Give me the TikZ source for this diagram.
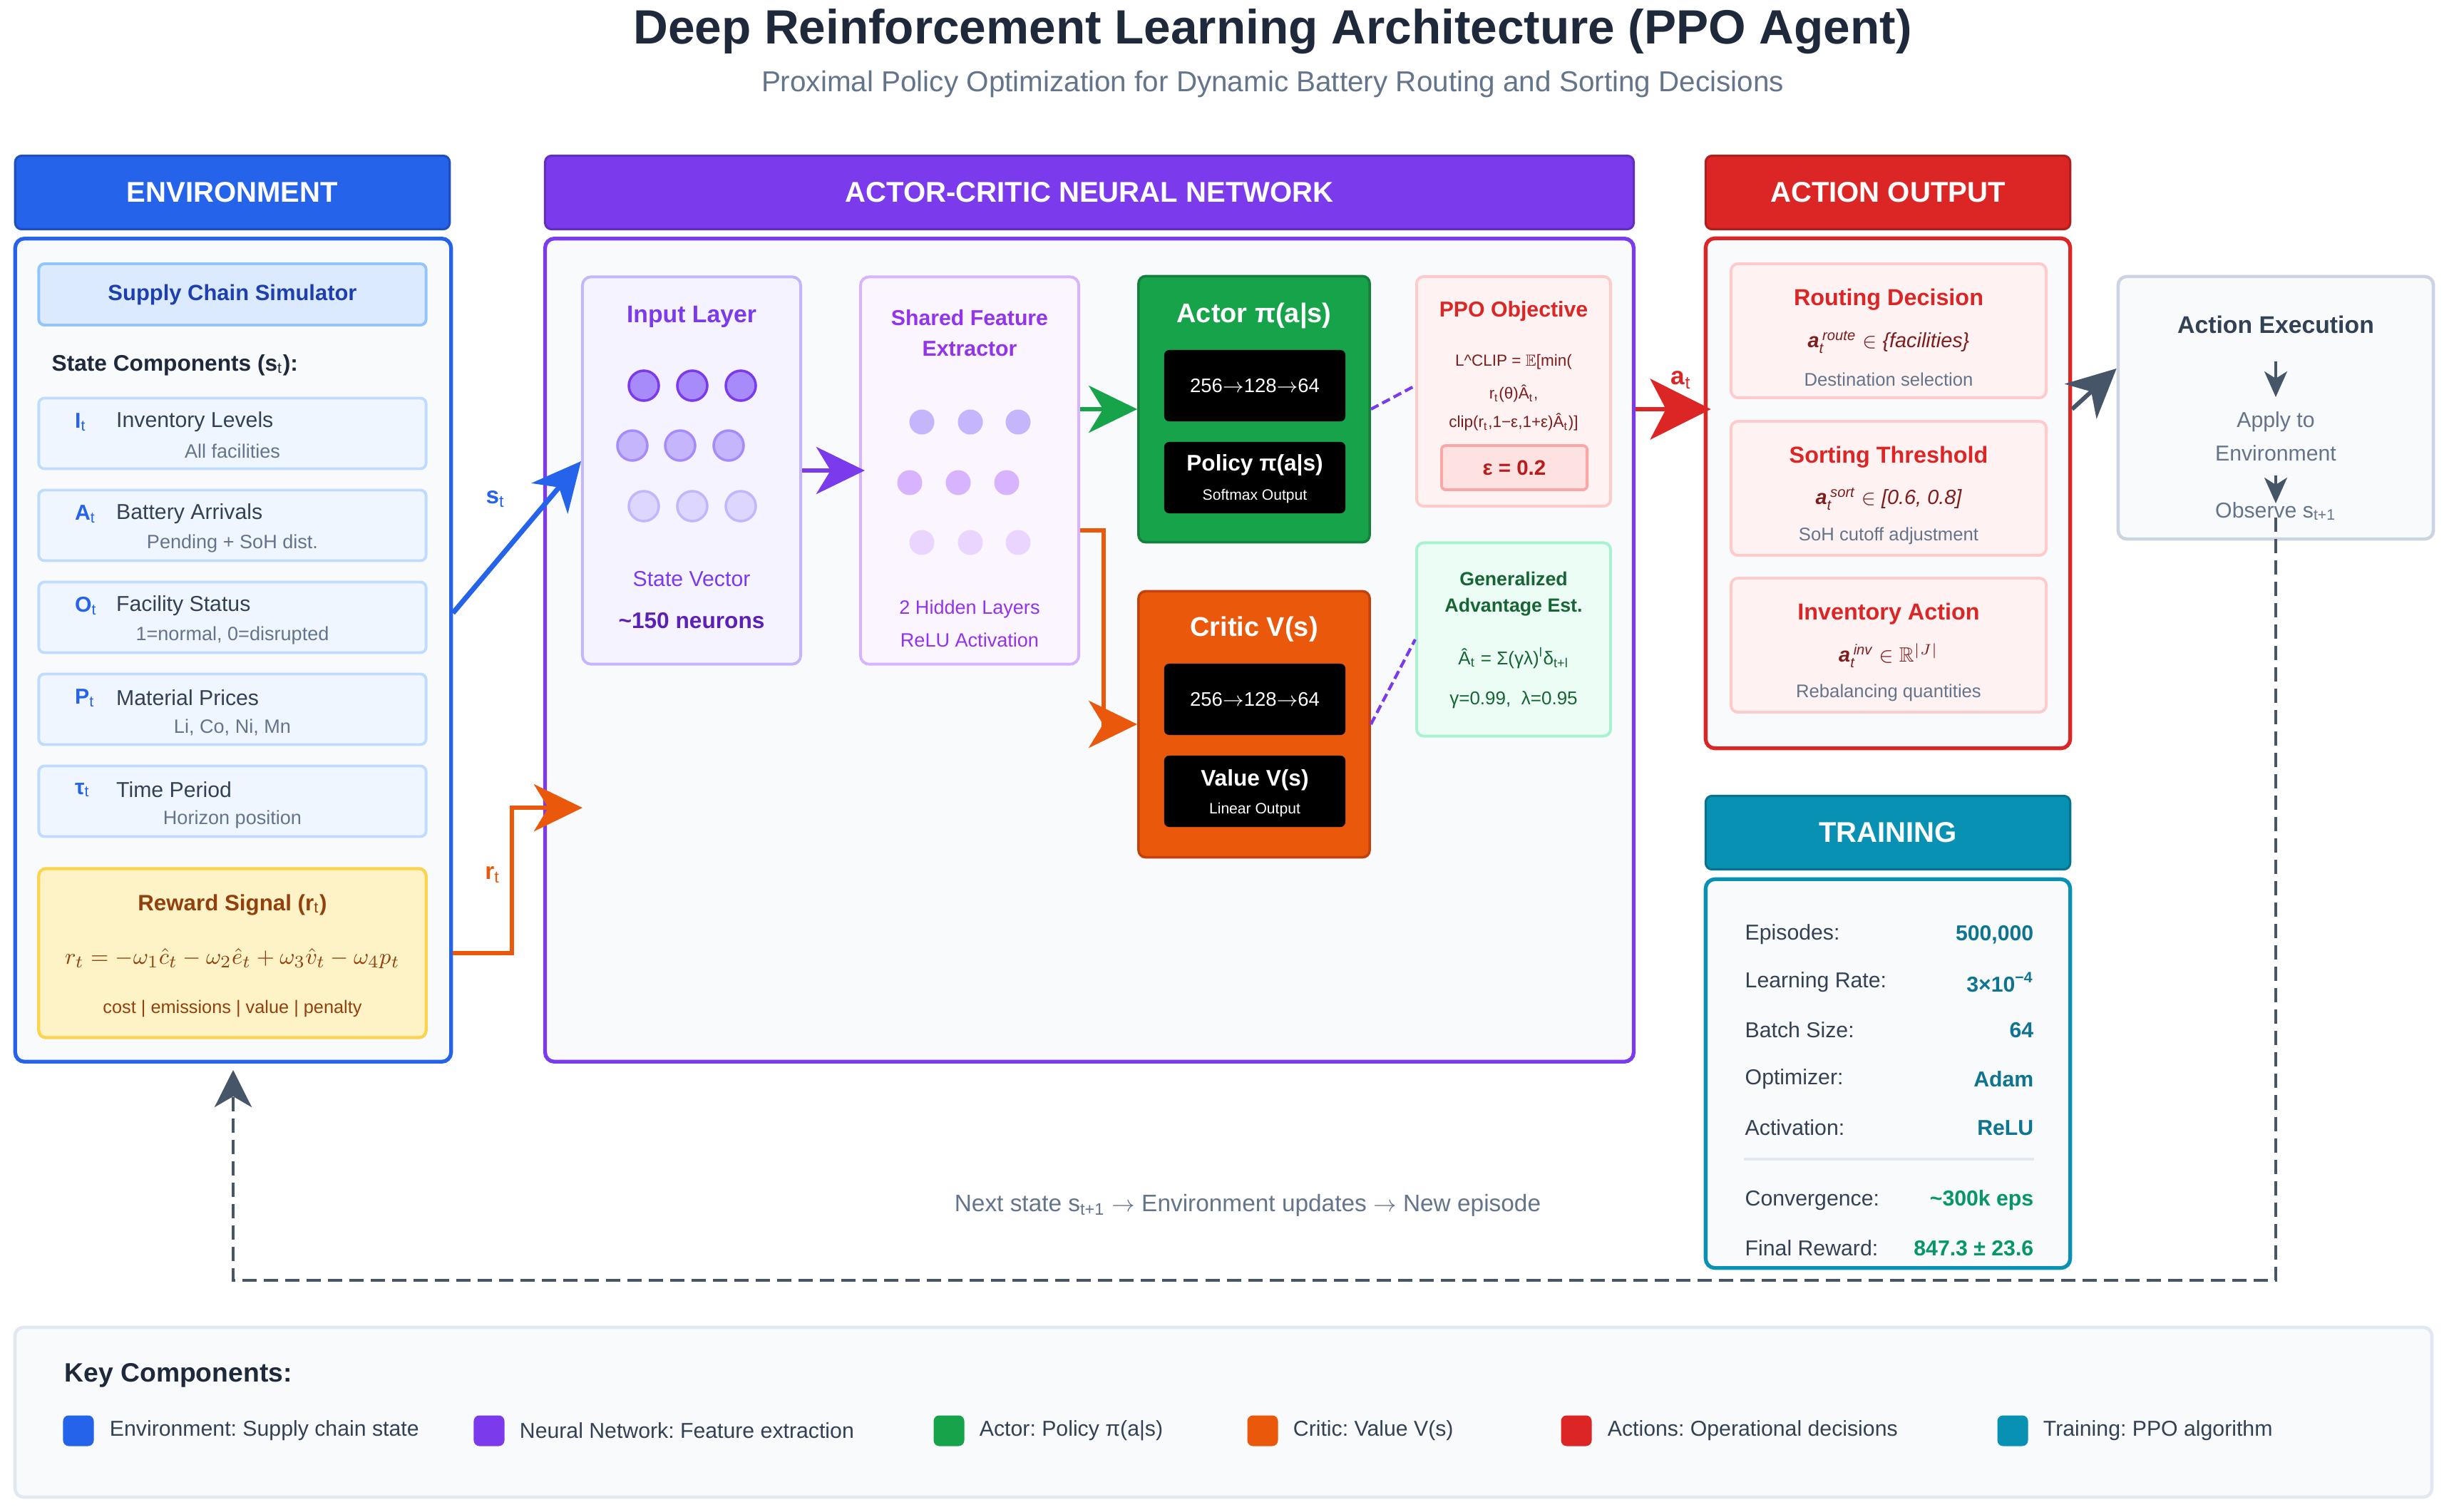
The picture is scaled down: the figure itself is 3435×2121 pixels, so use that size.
\documentclass[tikz,border=0pt]{standalone}
\usepackage{amsmath, amssymb}
\usepackage{fontspec}
\setmainfont{Liberation Sans}
\usepackage{tikz}
\usetikzlibrary{positioning}
\usetikzlibrary{arrows.meta}
\tikzset{>={Stealth[length=6.8mm,width=6.6mm,inset=2mm]}}
\frenchspacing

\newcommand{\fsz}[1]{\fontsize{#1}{#1}\selectfont}

\definecolor{ink}{HTML}{1E293B}
\definecolor{slate}{HTML}{64748B}
\definecolor{slatedk}{HTML}{475569}
\definecolor{slatetx}{HTML}{334155}
\definecolor{panelbg}{HTML}{F8FAFC}
\definecolor{envblue}{HTML}{2563EB}
\definecolor{simfill}{HTML}{DBEAFE}
\definecolor{simline}{HTML}{93C5FD}
\definecolor{simtext}{HTML}{1E40AF}
\definecolor{itemfill}{HTML}{EFF6FF}
\definecolor{itemline}{HTML}{BFDBFE}
\definecolor{rewfill}{HTML}{FEF3C7}
\definecolor{rewline}{HTML}{FCD34D}
\definecolor{rewtext}{HTML}{92400E}
\definecolor{nnpurple}{HTML}{7C3AED}
\definecolor{inpfill}{HTML}{F5F3FF}
\definecolor{inpline}{HTML}{C4B5FD}
\definecolor{inpdeep}{HTML}{5B21B6}
\definecolor{shfill}{HTML}{FAF5FF}
\definecolor{shline}{HTML}{D8B4FE}
\definecolor{shtext}{HTML}{9333EA}
\definecolor{neurA}{HTML}{A78BFA}
\definecolor{neurB}{HTML}{C4B5FD}
\definecolor{neurC}{HTML}{DDD6FE}
\definecolor{hidA}{HTML}{C4B5FD}
\definecolor{hidB}{HTML}{D8B4FE}
\definecolor{hidC}{HTML}{E9D5FF}
\definecolor{actgreen}{HTML}{16A34A}
\definecolor{actgreend}{HTML}{15803D}
\definecolor{critorange}{HTML}{EA580C}
\definecolor{critoranged}{HTML}{C2410C}
\definecolor{ppofill}{HTML}{FEF2F2}
\definecolor{ppoline}{HTML}{FECACA}
\definecolor{ppodark}{HTML}{7F1D1D}
\definecolor{epsfill}{HTML}{FEE2E2}
\definecolor{epsline}{HTML}{FCA5A5}
\definecolor{epstext}{HTML}{B91C1C}
\definecolor{gaefill}{HTML}{ECFDF5}
\definecolor{gaeline}{HTML}{A7F3D0}
\definecolor{gaetext}{HTML}{166534}
\definecolor{actred}{HTML}{DC2626}
\definecolor{exline}{HTML}{CBD5E1}
\definecolor{trcyan}{HTML}{0891B2}
\definecolor{trvalue}{HTML}{0E7490}
\definecolor{trgreen}{HTML}{059669}
\definecolor{legline}{HTML}{E2E8F0}

\begin{document}
\begin{tikzpicture}[x=0.01cm, y=-0.01cm, every node/.style={inner sep=0pt},
    hdr/.style={rounded corners=0.09cm, fill=#1, draw=#1!80!black, line width=0.9pt, text=white, font=\fsz{11.4}\bfseries, minimum height=1.03cm},
    panel/.style={rounded corners=0.13cm, fill=panelbg, draw=#1, line width=1.5pt},
    stateitem/.style={rounded corners=0.08cm, fill=itemfill, draw=itemline, line width=1.1pt, minimum width=5.43cm, minimum height=0.99cm},
    statesym/.style={anchor=west, font=\fsz{8.6}\bfseries, text=envblue},
    statename/.style={anchor=west, font=\fsz{8.6}, text=slatetx},
    statesub/.style={font=\fsz{7.7}, text=slate},
    layerbox/.style={rounded corners=0.12cm, line width=1.1pt, minimum width=3.06cm, minimum height=5.43cm},
    neuron/.style={circle, minimum size=0.42cm, line width=1pt},
    hidden/.style={circle, minimum size=0.35cm, fill=#1},
    headbox/.style={rounded corners=0.1cm, line width=1pt, minimum width=3.24cm, minimum height=3.73cm},
    blackbox/.style={rounded corners=0.07cm, fill=black, minimum width=2.54cm, minimum height=1.0cm, font=\fsz{7.8}, text=white},
    ppotext/.style={font=\fsz{6.4}, text=ppodark},
    gaetitle/.style={font=\fsz{7.6}\bfseries, text=gaetext},
    gaeline/.style={font=\fsz{7.4}, text=gaetext},
    ppolink/.style={draw=nnpurple, line width=1.2pt, dash pattern=on 0.12cm off 0.06cm},
    actitem/.style={rounded corners=0.1cm, fill=ppofill, draw=ppoline, line width=1.1pt, minimum width=4.42cm, minimum height=1.88cm},
    acttitle/.style={font=\fsz{9.2}\bfseries, text=actred},
    actform/.style={font=\fsz{8.2}, text=ppodark},
    actcap/.style={font=\fsz{7.3}, text=slate},
    trlabel/.style={anchor=west, font=\fsz{8.6}, text=slatetx},
    trval/.style={anchor=east, font=\fsz{8.6}\bfseries, text=#1},
    legsq/.style={rounded corners=0.08cm, fill=#1, minimum size=0.43cm},
    legtext/.style={font=\fsz{8.6}, text=slatetx},
    loopback/.style={draw=slatedk, line width=1.4pt, dash pattern=on 0.2cm off 0.1cm, -{Stealth[length=5.2mm,width=5.2mm,inset=1.5mm]}}]

    \path[use as bounding box, fill=white] (0,0) rectangle (3435,2121);

    %Title
    \node[font=\fsz{19.2}\bfseries, text=ink] (title) at (1785,44) {Deep Reinforcement Learning Architecture (PPO Agent)};
    \node[font=\fsz{11.5}, text=slate] (subtitle) at (1785,118) {Proximal Policy Optimization for Dynamic Battery Routing and Sorting Decisions};

    %Environment
    \node[hdr=envblue, minimum width=6.09cm] (envhead) at (326,270) {ENVIRONMENT};
    \node[panel=envblue, minimum width=6.11cm, minimum height=11.54cm] (envbody) at (327,912) {};
    \node[rounded corners=0.08cm, fill=simfill, draw=simline, line width=1.1pt, minimum width=5.43cm, minimum height=0.86cm, font=\fsz{8.8}\bfseries, text=simtext] (sim) at (326,413) {Supply Chain Simulator};
    \node[anchor=west, font=\fsz{9}\bfseries, text=ink] (statehd) at (72,512) {State Components (s$_{\mathrm{t}}$):};

    \node[stateitem] (inv) at (326,608) {};
    \node[statesym] (invsym) at ([xshift=0.52cm,yshift=0.16cm]inv.west) {I$_{\mathrm{t}}$};
    \node[statename] (invname) at ([xshift=1.10cm,yshift=0.16cm]inv.west) {Inventory Levels};
    \node[statesub] (invsub) at ([yshift=-0.25cm]inv.center) {All facilities};

    \node[stateitem] (arr) at (326,737) {};
    \node[statesym] (arrsym) at ([xshift=0.52cm,yshift=0.16cm]arr.west) {A$_{\mathrm{t}}$};
    \node[statename] (arrname) at ([xshift=1.10cm,yshift=0.16cm]arr.west) {Battery Arrivals};
    \node[statesub] (arrsub) at ([yshift=-0.25cm]arr.center) {Pending + SoH dist.};

    \node[stateitem] (fac) at (326,866) {};
    \node[statesym] (facsym) at ([xshift=0.52cm,yshift=0.16cm]fac.west) {O$_{\mathrm{t}}$};
    \node[statename] (facname) at ([xshift=1.10cm,yshift=0.16cm]fac.west) {Facility Status};
    \node[statesub] (facsub) at ([yshift=-0.25cm]fac.center) {1=normal, 0=disrupted};

    \node[stateitem] (mat) at (326,995) {};
    \node[statesym] (matsym) at ([xshift=0.52cm,yshift=0.16cm]mat.west) {P$_{\mathrm{t}}$};
    \node[statename] (matname) at ([xshift=1.10cm,yshift=0.16cm]mat.west) {Material Prices};
    \node[statesub] (matsub) at ([yshift=-0.25cm]mat.center) {Li, Co, Ni, Mn};

    \node[stateitem] (tim) at (326,1124) {};
    \node[statesym] (timsym) at ([xshift=0.52cm,yshift=0.16cm]tim.west) {τ$_{\mathrm{t}}$};
    \node[statename] (timname) at ([xshift=1.10cm,yshift=0.16cm]tim.west) {Time Period};
    \node[statesub] (timsub) at ([yshift=-0.25cm]tim.center) {Horizon position};

    \node[rounded corners=0.1cm, fill=rewfill, draw=rewline, line width=1.2pt, minimum width=5.43cm, minimum height=2.37cm] (reward) at (326,1337) {};
    \node[font=\fsz{8.9}\bfseries, text=rewtext] (rewtitle) at (326,1269) {Reward Signal (r$_{\mathrm{t}}$)};
    \node[font=\fsz{9.3}, text=rewtext] (rewform) at (326,1345) {$r_t = -\omega_1\hat{c}_t - \omega_2\hat{e}_t + \omega_3\hat{v}_t - \omega_4 p_t$};
    \node[font=\fsz{7.2}, text=rewtext] (rewcap) at (326,1415) {cost | emissions | value | penalty};

    %Actor-critic network
    \node[hdr=nnpurple, minimum width=15.26cm] (acnhead) at (1528,270) {ACTOR-CRITIC NEURAL NETWORK};
    \node[panel=nnpurple, minimum width=15.26cm, minimum height=11.54cm] (acnbody) at (1528,912) {};

    \node[layerbox, fill=inpfill, draw=inpline] (inlayer) at (970,660) {};
    \node[font=\fsz{9.6}\bfseries, text=nnpurple] (inlabel) at (970,444) {Input Layer};
    \node[neuron, fill=neurA, draw=nnpurple] (in11) at (903,541) {};
    \node[neuron, fill=neurA, draw=nnpurple] (in12) at (971,541) {};
    \node[neuron, fill=neurA, draw=nnpurple] (in13) at (1039,541) {};
    \node[neuron, fill=neurB, draw=neurA] (in21) at (887,625) {};
    \node[neuron, fill=neurB, draw=neurA] (in22) at (954,625) {};
    \node[neuron, fill=neurB, draw=neurA] (in23) at (1022,625) {};
    \node[neuron, fill=neurC, draw=neurB] (in31) at (903,710) {};
    \node[neuron, fill=neurC, draw=neurB] (in32) at (971,710) {};
    \node[neuron, fill=neurC, draw=neurB] (in33) at (1039,710) {};
    \node[font=\fsz{8.6}, text=nnpurple] (invec) at (970,812) {State Vector};
    \node[font=\fsz{9}\bfseries, text=inpdeep] (insize) at (970,871) {\textasciitilde150 neurons};

    \node[layerbox, fill=shfill, draw=shline] (shared) at (1360,660) {};
    \node[font=\fsz{8.6}\bfseries, text=shtext] (shlabela) at (1360,446) {Shared Feature};
    \node[font=\fsz{8.6}\bfseries, text=shtext] (shlabelb) at (1360,489) {Extractor};
    \node[hidden=hidA] (hd11) at (1293,592) {};
    \node[hidden=hidA] (hd12) at (1361,592) {};
    \node[hidden=hidA] (hd13) at (1428,592) {};
    \node[hidden=hidB] (hd21) at (1276,677) {};
    \node[hidden=hidB] (hd22) at (1344,677) {};
    \node[hidden=hidB] (hd23) at (1412,677) {};
    \node[hidden=hidC] (hd31) at (1293,761) {};
    \node[hidden=hidC] (hd32) at (1361,761) {};
    \node[hidden=hidC] (hd33) at (1428,761) {};
    \node[font=\fsz{7.7}, text=shtext] (shinfoa) at (1360,854) {2 Hidden Layers};
    \node[font=\fsz{7.7}, text=shtext] (shinfob) at (1360,898) {ReLU Activation};

    \node[headbox, fill=actgreen, draw=actgreend] (actor) at (1759,574) {};
    \node[font=\fsz{10.8}\bfseries, text=white] (actortitle) at (1759,443) {Actor π(a|s)};
    \node[blackbox] (actnet) at (1760,541) {256$\rightarrow$128$\rightarrow$64};
    \node[blackbox] (actpol) at (1760,670) {};
    \node[font=\fsz{9}\bfseries, text=white] (actpola) at (1760,653) {Policy π(a|s)};
    \node[font=\fsz{6}, text=white] (actpolb) at (1760,696) {Softmax Output};

    \node[headbox, fill=critorange, draw=critoranged] (critic) at (1759,1016) {};
    \node[font=\fsz{10.8}\bfseries, text=white] (critictitle) at (1759,883) {Critic V(s)};
    \node[blackbox] (critnet) at (1760,981) {256$\rightarrow$128$\rightarrow$64};
    \node[blackbox] (critval) at (1760,1110) {};
    \node[font=\fsz{9}\bfseries, text=white] (critvala) at (1760,1094) {Value V(s)};
    \node[font=\fsz{6}, text=white] (critvalb) at (1760,1136) {Linear Output};

    \node[rounded corners=0.1cm, fill=ppofill, draw=ppoline, line width=1.1pt, minimum width=2.72cm, minimum height=3.22cm] (ppo) at (2123,549) {};
    \node[font=\fsz{8.6}\bfseries, text=actred] (ppotitle) at (2123,437) {PPO Objective};
    \node[ppotext] (ppoa) at (2123,508) {L\textasciicircum CLIP = $\mathbb{E}$[min(};
    \node[ppotext] (ppob) at (2123,552) {r\textsubscript{t}(θ)Â\textsubscript{t},};
    \node[ppotext] (ppoc) at (2123,592) {clip(r\textsubscript{t},1−ε,1+ε)Â\textsubscript{t})]};
    \node[rounded corners=0.06cm, fill=epsfill, draw=epsline, line width=1.1pt, minimum width=2.04cm, minimum height=0.62cm, font=\fsz{8.4}\bfseries, text=epstext] (eps) at (2124,656) {ε = 0.2};

    \node[rounded corners=0.1cm, fill=gaefill, draw=gaeline, line width=1.1pt, minimum width=2.72cm, minimum height=2.71cm] (gae) at (2123,897) {};
    \node[gaetitle] (gaea) at (2123,812) {Generalized};
    \node[gaetitle] (gaeb) at (2123,852) {Advantage Est.};
    \node[gaeline] (gaec) at (2123,923) {Â\textsubscript{t} = Σ(γλ)\textsuperscript{l}δ\textsubscript{t+l}};
    \node[gaeline] (gaed) at (2123,982) {γ=0.99, \ λ=0.95};

    %Action output
    \node[hdr=actred, minimum width=5.11cm] (acthead) at (2648,270) {ACTION OUTPUT};
    \node[panel=actred, minimum width=5.11cm, minimum height=7.15cm] (actbody) at (2648,692) {};

    \node[actitem] (route) at (2649,464) {};
    \node[acttitle] (routet) at (2649,420) {Routing Decision};
    \node[actform] (routef) at (2649,480) {$\textbf{\textit{a}}_{\textit{t}}^{\,\textit{route}} \in \textit{\{facilities\}}$};
    \node[actcap] (routec) at (2649,532) {Destination selection};

    \node[actitem] (sortth) at (2649,685) {};
    \node[acttitle] (sortt) at (2649,641) {Sorting Threshold};
    \node[actform] (sortf) at (2649,700) {$\textbf{\textit{a}}_{\textit{t}}^{\,\textit{sort}} \in \textit{[0.6, 0.8]}$};
    \node[actcap] (sortc) at (2649,752) {SoH cutoff adjustment};

    \node[actitem] (invact) at (2649,905) {};
    \node[acttitle] (invactt) at (2649,861) {Inventory Action};
    \node[actform] (invactf) at (2649,920) {$\textbf{\textit{a}}_{\textit{t}}^{\,\textit{inv}} \in \mathbb{R}^{|J|}$};
    \node[actcap] (invactc) at (2649,972) {Rebalancing quantities};

    %Action execution
    \node[rounded corners=0.12cm, fill=panelbg, draw=exline, line width=1.3pt, minimum width=4.42cm, minimum height=3.68cm] (exec) at (3192,572) {};
    \node[font=\fsz{9.6}\bfseries, text=slatetx] (extitle) at (3192,455) {Action Execution};
    \node[font=\fsz{8.6}, text=slate] (exapply) at (3192,592) {Apply to};
    \node[font=\fsz{8.6}, text=slate] (exenv) at (3192,636) {Environment};
    \node[font=\fsz{8.6}, text=slate] (exobs) at (3192,717) {Observe s\textsubscript{t+1}};

    %Training
    \node[hdr=trcyan, minimum width=5.11cm] (trhead) at (2648,1168) {TRAINING};
    \node[panel=trcyan, minimum width=5.11cm, minimum height=5.45cm] (trbody) at (2648,1506) {};
    \node[trlabel] (epl) at (2447,1311) {Episodes:};
    \node[trval=trvalue] (epv) at (2853,1311) {500,000};
    \node[trlabel] (lrl) at (2447,1378) {Learning Rate:};
    \node[trval=trvalue] (lrv) at (2853,1378) {3×10\textsuperscript{−4}};
    \node[trlabel] (bsl) at (2447,1445) {Batch Size:};
    \node[trval=trvalue] (bsv) at (2853,1445) {64};
    \node[trlabel] (opl) at (2447,1514) {Optimizer:};
    \node[trval=trvalue] (opv) at (2853,1514) {Adam};
    \node[trlabel] (acl) at (2447,1582) {Activation:};
    \node[trval=trvalue] (acv) at (2853,1582) {ReLU};
    \coordinate (trsepa) at (2446,1626);
    \coordinate (trsepb) at (2853,1626);
    \node[trlabel] (cvl) at (2447,1684) {Convergence:};
    \node[trval=trgreen] (cvv) at (2853,1684) {\textasciitilde300k eps};
    \node[trlabel] (frl) at (2447,1751) {Final Reward:};
    \node[trval=trgreen] (frv) at (2853,1751) {847.3 ± 23.6};

    %Labels
    \node[font=\fsz{9.5}\bfseries, text=envblue] (stlbl) at (695,700) {s$_{\mathrm{t}}$};
    \node[font=\fsz{9.5}\bfseries, text=critorange] (rtlbl) at (691,1227) {r$_{\mathrm{t}}$};
    \node[font=\fsz{10}\bfseries, text=actred] (atlbl) at (2358,533) {a$_{\mathrm{t}}$};
    \node[font=\fsz{9.5}, text=slate] (nextlbl) at (1750,1691) {Next state s\textsubscript{t+1} $\rightarrow$ Environment updates $\rightarrow$ New episode};

    %Legend
    \node[rounded corners=0.12cm, fill=panelbg, draw=legline, line width=1.3pt, minimum width=33.88cm, minimum height=2.38cm] (legend) at (1716,1981) {};
    \node[anchor=west, font=\fsz{10.6}\bfseries, text=ink] (keyhd) at (90,1929) {Key Components:};
    \node[legsq=envblue] (k1) at (110,2007) {};
    \node[legtext, right=0.21cm of k1] (k1t) {Environment: Supply chain state};
    \node[legsq=nnpurple] (k2) at (686,2007) {};
    \node[legtext, right=0.2cm of k2] (k2t) {Neural Network: Feature extraction};
    \node[legsq=actgreen] (k3) at (1331,2007) {};
    \node[legtext, right=0.2cm of k3] (k3t) {Actor: Policy π(a|s)};
    \node[legsq=critorange] (k4) at (1771,2007) {};
    \node[legtext, right=0.2cm of k4] (k4t) {Critic: Value V(s)};
    \node[legsq=actred] (k5) at (2211,2007) {};
    \node[legtext, right=0.21cm of k5] (k5t) {Actions: Operational decisions};
    \node[legsq=trcyan] (k6) at (2823,2007) {};
    \node[legtext, right=0.2cm of k6] (k6t) {Training: PPO algorithm};

    %Lines
    \coordinate (rtip) at ([xshift=0.55cm,yshift=-2.21cm]acnbody.west);
    \coordinate (loopy) at (0,1796);
    \draw[->, envblue, line width=2pt] ([yshift=0.52cm]envbody.east) -- ([yshift=0.13cm]inlayer.west);
    \draw[->, critorange, line width=1.7pt] ([yshift=-4.25cm]envbody.east) -- ++(0.83cm,0) |- (rtip);
    \draw[->, nnpurple, line width=1.6pt] (inlayer.east) -- ([xshift=0.08cm]shared.west);
    \draw[->, actgreen, line width=1.6pt] (shared.east |- actor.west) -- (actor.west);
    \draw[->, critorange, line width=1.6pt] ([yshift=-0.84cm]shared.east) -- ++(0.33cm,0) |- (critic.west);
    \draw[ppolink] (actor.east) -- ([yshift=0.08cm]ppo.west);
    \draw[ppolink] (critic.east) -- (gae.west);
    \draw[-{Stealth[length=8.5mm,width=8.5mm,inset=2.2mm]}, actred, line width=1.8pt] (actor.east -| acnbody.east) -- ([xshift=0.1cm]actor.east -| actbody.west);
    \draw[->, slatedk, line width=1.7pt] (actor.east -| actbody.east) -- ([yshift=0.55cm]exec.west);
    \draw[-{Stealth[length=3.6mm,width=3.2mm,inset=1mm]}, slatedk, line width=1pt] ([yshift=-0.52cm]extitle.center) -- ([yshift=0.35cm]exapply.center);
    \draw[-{Stealth[length=3.6mm,width=3.2mm,inset=1mm]}, slatedk, line width=1pt] ([yshift=-0.31cm]exenv.center) -- ([yshift=0.11cm]exobs.center);
    \draw[legline, line width=1.3pt] (trsepa) -- (trsepb);
    \draw[loopback] ([yshift=-0.09cm]exobs.center) -- (exobs.center |- loopy) -| ([yshift=-0.09cm]envbody.south);
\end{tikzpicture}
\end{document}
